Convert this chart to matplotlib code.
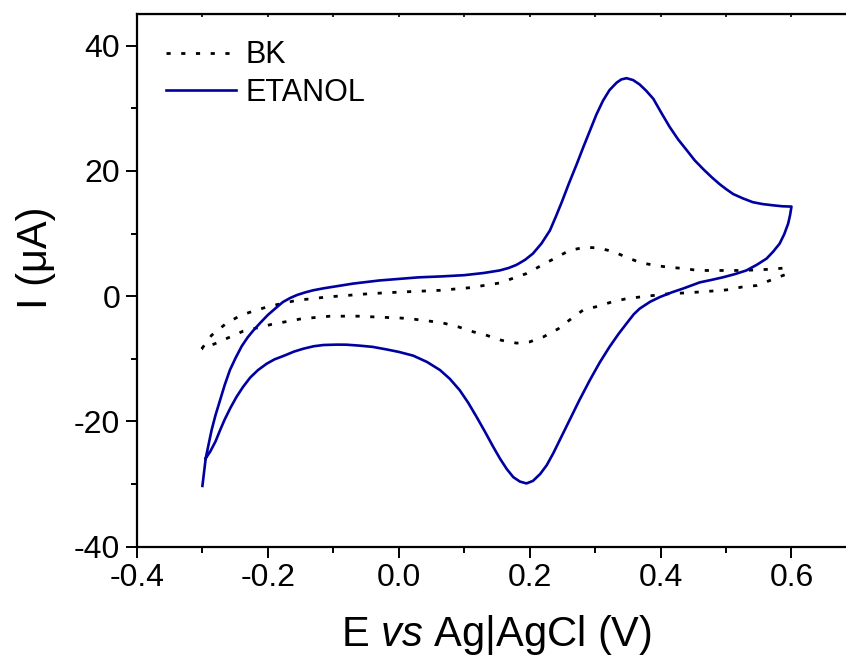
import matplotlib
matplotlib.use('Agg')
import matplotlib.pyplot as plt
from matplotlib.ticker import MultipleLocator, FormatStrFormatter

plt.rcParams['font.family'] = 'Liberation Sans'
plt.rcParams['mathtext.fontset'] = 'custom'
plt.rcParams['mathtext.rm'] = 'Liberation Sans'
plt.rcParams['mathtext.it'] = 'Liberation Sans:italic'
plt.rcParams['axes.unicode_minus'] = False

# blank electrolyte (BK): forward scan then reverse scan
bk_e = [-0.301, -0.286, -0.263, -0.242, -0.220, -0.197, -0.156, -0.110, -0.044, 0.002,
        0.063, 0.109, 0.154, 0.195, 0.218, 0.241, 0.261, 0.284, 0.305, 0.328,
        0.348, 0.368, 0.391, 0.414, 0.437, 0.457, 0.480, 0.503, 0.526, 0.547,
        0.569, 0.590,
        0.592, 0.567, 0.547, 0.524, 0.501, 0.477, 0.457, 0.434, 0.414, 0.391,
        0.368, 0.348, 0.325, 0.305, 0.282, 0.266, 0.244, 0.221, 0.200, 0.180,
        0.157, 0.134, 0.114, 0.091, 0.068, 0.048, 0.025, 0.004, -0.019, -0.062,
        -0.105, -0.148, -0.194, -0.238, -0.281, -0.301]
bk_i = [-8.4, -6.25, -4.3, -3.1, -2.3, -1.6, -0.67, -0.14, 0.4, 0.65,
        0.93, 1.35, 2.1, 3.6, 4.9, 6.2, 7.3, 7.8, 7.7, 7.1,
        6.2, 5.4, 4.9, 4.6, 4.4, 4.1, 4.1, 4.1, 4.1, 4.2,
        4.3, 4.5,
        3.5, 2.5, 1.7, 1.45, 1.0, 0.8, 0.65, 0.5, 0.4, 0.13,
        -0.14, -0.4, -0.94, -1.6, -2.2, -3.4, -5.2, -6.5, -7.3, -7.5,
        -7.05, -6.25, -5.7, -4.9, -4.3, -4.0, -3.7, -3.5, -3.4, -3.2,
        -3.2, -3.6, -4.5, -5.6, -7.6, -8.4]

# ethanol (ETANOL), forward scan
et_fwd_e = [-0.300, -0.295, -0.290, -0.286, -0.280, -0.273, -0.266, -0.258, -0.249, -0.240,
            -0.231, -0.222, -0.211, -0.200, -0.189, -0.177, -0.166, -0.155, -0.143, -0.131,
            -0.115, -0.100, -0.085, -0.070, -0.050, -0.030, 0.000, 0.030, 0.065, 0.100,
            0.130, 0.154, 0.168, 0.180, 0.193, 0.205, 0.218, 0.231, 0.240, 0.249,
            0.260, 0.272, 0.282, 0.292, 0.302, 0.312, 0.322, 0.333, 0.340, 0.348,
            0.358, 0.368, 0.378, 0.389, 0.401, 0.414, 0.427, 0.440, 0.452, 0.465,
            0.478, 0.490, 0.500, 0.511, 0.526, 0.541, 0.556, 0.572, 0.586, 0.600]
et_fwd_i = [-30.3, -25.9, -23.4, -21.4, -19.0, -16.6, -14.2, -11.8, -9.8, -8.0,
            -6.6, -5.45, -4.2, -3.0, -2.0, -0.94, -0.3, 0.2, 0.6, 0.93,
            1.25, 1.5, 1.75, 2.0, 2.25, 2.5, 2.75, 3.0, 3.15, 3.35,
            3.7, 4.1, 4.5, 5.0, 5.8, 6.8, 8.4, 10.5, 12.7, 15.0,
            18.0, 21.1, 23.8, 26.4, 29.0, 31.2, 32.9, 34.1, 34.6, 34.8,
            34.5, 33.8, 32.8, 31.5, 29.3, 27.0, 25.0, 23.3, 21.7, 20.3,
            19.0, 17.9, 17.1, 16.3, 15.6, 15.0, 14.7, 14.5, 14.35, 14.3]

# ethanol (ETANOL), reverse scan
et_rev_e = [0.598, 0.595, 0.589, 0.582, 0.572, 0.562, 0.547, 0.531, 0.513, 0.495,
            0.478, 0.460, 0.447, 0.434, 0.417, 0.399, 0.384, 0.368, 0.359, 0.350,
            0.336, 0.322, 0.307, 0.292, 0.276, 0.261, 0.248, 0.236, 0.226, 0.216,
            0.205, 0.195, 0.185, 0.175, 0.165, 0.155, 0.144, 0.132, 0.119, 0.106,
            0.093, 0.078, 0.063, 0.043, 0.022, 0.000, -0.019, -0.040, -0.060, -0.080,
            -0.095, -0.115, -0.130, -0.146, -0.160, -0.175, -0.190, -0.202, -0.215, -0.227,
            -0.238, -0.248, -0.257, -0.266, -0.273, -0.280, -0.288, -0.295]
et_rev_i = [13.0, 11.6, 9.9, 8.4, 7.1, 6.0, 5.0, 4.1, 3.5, 3.0,
            2.6, 2.2, 1.7, 1.2, 0.6, -0.14, -0.9, -2.0, -2.9, -4.1,
            -6.0, -8.1, -10.6, -13.4, -16.6, -19.8, -22.6, -25.1, -27.0, -28.4,
            -29.5, -29.9, -29.6, -28.9, -27.6, -26.0, -24.0, -21.7, -19.3, -17.0,
            -15.0, -13.2, -11.8, -10.5, -9.5, -8.9, -8.5, -8.1, -7.9, -7.75,
            -7.74, -7.8, -8.0, -8.4, -8.85, -9.5, -10.1, -10.8, -11.8, -13.0,
            -14.5, -16.1, -17.8, -19.7, -21.4, -23.2, -24.8, -25.9]

et_e = et_fwd_e + et_rev_e
et_i = et_fwd_i + et_rev_i

fig = plt.figure(figsize=(8.46, 6.62), dpi=100)
ax = fig.add_axes([0.1619, 0.1742, 0.851, 0.8042])

ax.plot(bk_e, bk_i, color='black', lw=2.0, linestyle=(0, (1.5, 3.8)), label='BK')
ax.plot(et_e, et_i, color='#0000A0', lw=1.9, label='ETANOL')

ax.set_xlim(-0.4, 0.7)
ax.set_ylim(-40, 45)
ax.xaxis.set_major_locator(MultipleLocator(0.2))
ax.xaxis.set_minor_locator(MultipleLocator(0.1))
ax.yaxis.set_major_locator(MultipleLocator(20))
ax.yaxis.set_minor_locator(MultipleLocator(10))
ax.xaxis.set_major_formatter(FormatStrFormatter('%.1f'))

for s in ax.spines.values():
    s.set_linewidth(1.6)
ax.tick_params(which='major', direction='out', length=8, width=1.4, labelsize=23, pad=4)
ax.tick_params(which='minor', direction='out', length=4.5, width=1.4)

# small inward ticks along the top frame
top = ax.secondary_xaxis('top')
top.xaxis.set_major_locator(MultipleLocator(0.1))
top.tick_params(direction='in', length=2, width=1.2, labeltop=False)

ax.set_xlabel(r'E $\mathit{vs}$ Ag|AgCl (V)', fontsize=30, labelpad=14.5)
ax.set_ylabel(u'I (\u03bcA)', fontsize=30)
ax.yaxis.set_label_coords(-0.1125, 0.542)

ax.legend(loc='upper left', bbox_to_anchor=(0.04, 0.951), frameon=False, fontsize=22,
          handlelength=2.3, handletextpad=0.3, labelspacing=0.25, borderpad=0, borderaxespad=0)

fig.savefig('out.png', dpi=100)
